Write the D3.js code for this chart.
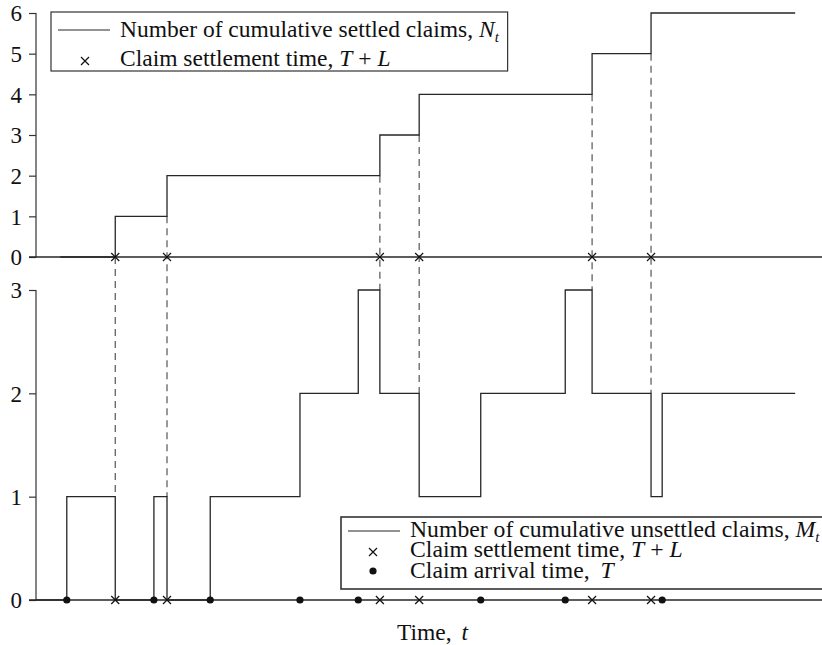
<!DOCTYPE html>
<html><head><meta charset="utf-8">
<script src="https://cdn.jsdelivr.net/npm/d3@7"></script>
<style>body{margin:0;background:#fff}svg{display:block}text{font-family:"Liberation Serif","Times New Roman",serif;fill:#111}</style>
</head><body><div id="chart"></div>
<script>
// Data (time units)
const arrivalTimes = [0.47, 1.80, 2.66, 4.03, 4.92, 6.79, 8.08, 9.56];
const settlementTimes = [1.21, 2.00, 5.25, 5.85, 8.49, 9.39];
const settledStart = 0.37;
const unsettledStart = 0.0;
const endTime = 11.59;
const topTicks = [0, 1, 2, 3, 4, 5, 6];
const bottomTicks = [0, 1, 2, 3];
const xLabel = "Time, ";

const W = 822, H = 645;
const svg = d3.select("#chart").append("svg").attr("width", W).attr("height", H);
const x = d3.scaleLinear().domain([0, 12]).range([36, 822]);
const yTop = d3.scaleLinear().domain([0, 6]).range([257, 13]);
const yBot = d3.scaleLinear().domain([0, 3]).range([600, 290]);
const ink = "#262626";

// step values
const Nat = t => settlementTimes.filter(s => s <= t).length;
const Mat = t => arrivalTimes.filter(a => a <= t).length - Nat(t);
const events = [...arrivalTimes, ...settlementTimes].sort((a, b) => a - b);
const nPts = [[settledStart, 0], ...settlementTimes.map(s => [s, Nat(s)]), [endTime, Nat(endTime)]];
const mPts = [[unsettledStart, 0], ...events.map(e => [e, Mat(e)]), [endTime, Mat(endTime)]];

function axisPanel(y, ticks) {
  const g = svg.append("g").attr("transform", `translate(${x(0)},0)`);
  g.call(d3.axisLeft(y).tickValues(ticks).tickSize(7).tickPadding(7).tickFormat(d3.format("d")));
  g.select(".domain").attr("d", `M0,${y.range()[0]}V${y.range()[1]}`).attr("stroke", "#333").attr("stroke-width", 1.2);
  g.selectAll(".tick line").attr("stroke", "#333").attr("stroke-width", 1.2);
  g.selectAll(".tick text").style("font-family", '"Liberation Serif",serif').style("font-size", "23px").attr("fill", "#111").attr("dy", "0.34em");
  // zero baseline
  svg.append("line").attr("x1", x(0) - 7).attr("x2", W).attr("y1", y(0)).attr("y2", y(0))
    .attr("stroke", ink).attr("stroke-width", 1.3);
}
axisPanel(yTop, topTicks);
axisPanel(yBot, bottomTicks);

// dashed connectors
settlementTimes.forEach(s => {
  const nBefore = Nat(s) - 1;
  const mBefore = Mat(s) + 1;
  svg.append("line").attr("x1", x(s)).attr("x2", x(s))
    .attr("y1", yTop(nBefore)).attr("y2", yBot(mBefore))
    .attr("stroke", "#555").attr("stroke-width", 1.2).attr("stroke-dasharray", "7,5");
});

const line = y => d3.line().x(d => x(d[0])).y(d => y(d[1])).curve(d3.curveStepAfter);
svg.append("path").attr("d", line(yTop)(nPts)).attr("fill", "none").attr("stroke", ink).attr("stroke-width", 1.3);
svg.append("path").attr("d", line(yBot)(mPts)).attr("fill", "none").attr("stroke", ink).attr("stroke-width", 1.3);

function cross(g, cx, cy, r) {
  g.append("path").attr("d", `M${cx - r},${cy - r}L${cx + r},${cy + r}M${cx - r},${cy + r}L${cx + r},${cy - r}`)
    .attr("stroke", "#111").attr("stroke-width", 1.2);
}
settlementTimes.forEach(s => { cross(svg, x(s), yTop(0), 4); cross(svg, x(s), yBot(0), 4); });
arrivalTimes.forEach(a => svg.append("circle").attr("cx", x(a)).attr("cy", yBot(0)).attr("r", 3.6).attr("fill", "#111"));

// top legend
const lg1 = svg.append("g");
const box1 = lg1.append("rect").attr("x", 51).attr("y", 12).attr("height", 59).attr("fill", "#fff").attr("stroke", "#333").attr("stroke-width", 1.2);
lg1.append("line").attr("x1", 58).attr("x2", 110).attr("y1", 30).attr("y2", 30).attr("stroke", ink).attr("stroke-width", 1.2);
const t1 = lg1.append("text").attr("x", 120).attr("y", 37).style("font-size", "23.5px");
t1.append("tspan").text("Number of cumulative settled claims, ");
t1.append("tspan").attr("font-style", "italic").text("N");
t1.append("tspan").attr("font-style", "italic").attr("dy", 5).style("font-size", "15px").text("t");
cross(lg1, 85, 61, 4);
const t2 = lg1.append("text").attr("x", 120).attr("y", 66).style("font-size", "23.5px");
t2.append("tspan").text("Claim settlement time, ");
t2.append("tspan").attr("font-style", "italic").text("T");
t2.append("tspan").text(" + ");
t2.append("tspan").attr("font-style", "italic").text("L");
const bb = t1.node().getBBox();
box1.attr("width", bb.x + bb.width + 8 - 51);

// bottom legend
const lg2 = svg.append("g");
lg2.append("rect").attr("x", 341).attr("y", 517).attr("width", 500).attr("height", 72).attr("fill", "#fff").attr("stroke", "#333").attr("stroke-width", 1.6);
lg2.append("line").attr("x1", 348).attr("x2", 400).attr("y1", 531).attr("y2", 531).attr("stroke", ink).attr("stroke-width", 1.2);
const t3 = lg2.append("text").attr("x", 410).attr("y", 537).style("font-size", "23.7px");
t3.append("tspan").text("Number of cumulative unsettled claims, ");
t3.append("tspan").attr("font-style", "italic").text("M");
t3.append("tspan").attr("font-style", "italic").attr("dy", 5).style("font-size", "15px").text("t");
cross(lg2, 373, 552, 4);
const t4 = lg2.append("text").attr("x", 410).attr("y", 557).style("font-size", "23.7px");
t4.append("tspan").text("Claim settlement time, ");
t4.append("tspan").attr("font-style", "italic").text("T");
t4.append("tspan").text(" + ");
t4.append("tspan").attr("font-style", "italic").text("L");
lg2.append("circle").attr("cx", 373).attr("cy", 571).attr("r", 3.6).attr("fill", "#111");
const t5 = lg2.append("text").attr("x", 410).attr("y", 578).style("font-size", "23.7px");
t5.append("tspan").text("Claim arrival time, ");
t5.append("tspan").attr("font-style", "italic").attr("dx", 5).text("T");

// x label
const xl = svg.append("text").attr("x", 397).attr("y", 640).style("font-size", "23.5px");
xl.append("tspan").text(xLabel);
xl.append("tspan").attr("font-style", "italic").attr("dx", 4).text("t");
</script></body></html>
